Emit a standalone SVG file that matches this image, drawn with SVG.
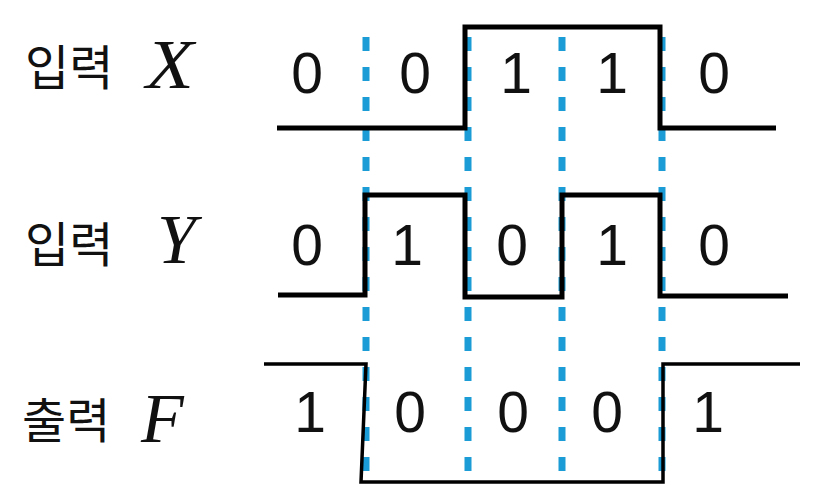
<svg xmlns="http://www.w3.org/2000/svg" width="824" height="502" viewBox="0 0 824 502">
<style>
.kr{font-family:"Noto Sans CJK KR","Noto Sans",sans-serif;font-size:48px;fill:#111}
.var{font-family:"Liberation Serif","Times New Roman",serif;font-style:italic;font-size:70px;fill:#111}
.dg{font-family:"Liberation Sans",Arial,sans-serif;font-size:57px;fill:#111;text-anchor:middle}
.grid{stroke:#1b9cd6;stroke-width:7;stroke-dasharray:14 16;fill:none}
.wave{stroke:#000;fill:none;stroke-linejoin:miter;stroke-linecap:butt}
</style>
<rect width="824" height="502" fill="#fff"/>
<g id="grid">
<line class="grid" x1="366" y1="37" x2="366" y2="482"/>
<line class="grid" x1="468" y1="37" x2="468" y2="482"/>
<line class="grid" x1="562" y1="37" x2="562" y2="482"/>
<line class="grid" x1="662" y1="37" x2="662" y2="482"/>
</g>
<g id="labels">
<text class="kr" x="25" y="85">입력</text>
<text class="var" x="146" y="88" transform="translate(146 0) scale(1.12 1) translate(-146 0)">X</text>
<text class="kr" x="25" y="262">입력</text>
<text class="var" x="157" y="263">Y</text>
<text class="kr" x="22" y="438">출력</text>
<text class="var" x="141" y="442">F</text>
</g>
<g id="waveforms">
<path id="wave-x" class="wave" stroke-width="5" d="M277,128 H465 V27 H660 V128 H776"/>
<path id="wave-y" class="wave" stroke-width="5" d="M278,295 H365 V195 H465 V297 H562 V195 H660 V296 H788"/>
<path id="wave-f" class="wave" stroke-width="3.5" d="M264,364 H366 L361,482 H663 V364 H800"/>
</g>
<g id="values">
<text class="dg" x="307" y="93">0</text>
<text class="dg" x="415" y="93">0</text>
<text class="dg" x="516" y="93">1</text>
<text class="dg" x="612" y="93">1</text>
<text class="dg" x="714" y="93">0</text>
<text class="dg" x="307" y="265">0</text>
<text class="dg" x="407" y="265">1</text>
<text class="dg" x="512" y="265">0</text>
<text class="dg" x="612" y="265">1</text>
<text class="dg" x="714" y="265">0</text>
<text class="dg" x="310" y="432">1</text>
<text class="dg" x="410" y="432">0</text>
<text class="dg" x="513" y="432">0</text>
<text class="dg" x="607" y="432">0</text>
<text class="dg" x="708" y="432">1</text>
</g>
</svg>
